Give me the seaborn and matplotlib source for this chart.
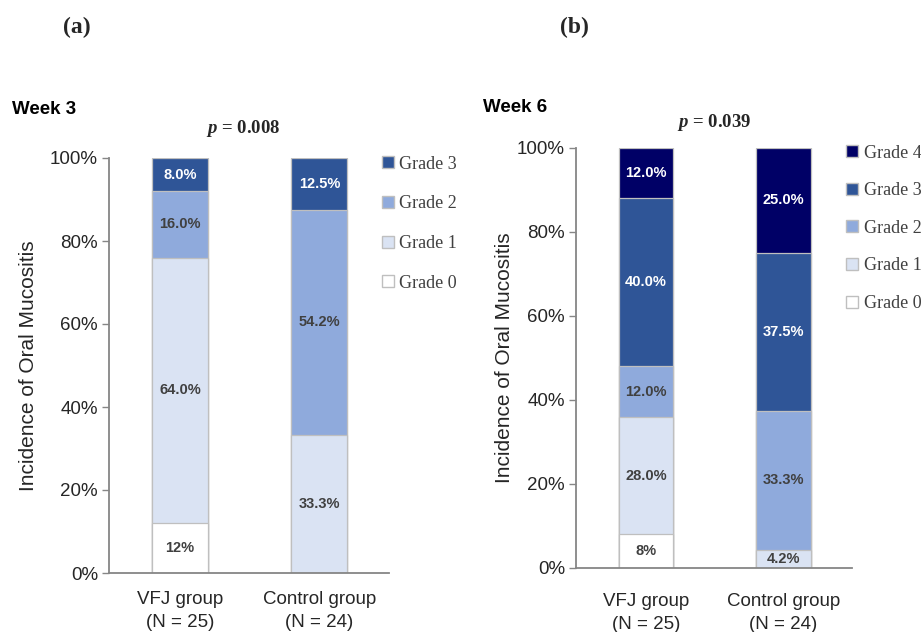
import numpy as np
import pandas as pd
import matplotlib
matplotlib.use('Agg')
import matplotlib.pyplot as plt
import seaborn as sns
from matplotlib.patches import Patch
from matplotlib.ticker import FuncFormatter

# Dados
groups = ['VFJ group\n(N = 25)', 'Control group\n(N = 24)']

week3_grades = ['Grade 0', 'Grade 1', 'Grade 2', 'Grade 3']
week3_vfj = [12.0, 64.0, 16.0, 8.0]
week3_ctrl = [0.0, 33.3, 54.2, 12.5]
week3_lbl_vfj = ['12%', '64.0%', '16.0%', '8.0%']
week3_lbl_ctrl = ['', '33.3%', '54.2%', '12.5%']

week6_grades = ['Grade 0', 'Grade 1', 'Grade 2', 'Grade 3', 'Grade 4']
week6_vfj = [8.0, 28.0, 12.0, 40.0, 12.0]
week6_ctrl = [0.0, 4.2, 33.3, 37.5, 25.0]
week6_lbl_vfj = ['8%', '28.0%', '12.0%', '40.0%', '12.0%']
week6_lbl_ctrl = ['', '4.2%', '33.3%', '37.5%', '25.0%']

grade_colors = {'Grade 0': '#FFFFFF', 'Grade 1': '#DAE3F3', 'Grade 2': '#8FAADC',
                'Grade 3': '#2F5597', 'Grade 4': '#000066'}
dark_grades = ['Grade 3', 'Grade 4']

sns.set_style('white')
plt.rcParams['font.family'] = ['Liberation Sans', 'DejaVu Sans']
plt.rcParams['mathtext.fontset'] = 'custom'
plt.rcParams['mathtext.it'] = 'Liberation Serif:italic:bold'
plt.rcParams['mathtext.rm'] = 'Liberation Serif:bold'

W, H = 921, 632
fig = plt.figure(figsize=(W / 100, H / 100), dpi=100)


def px_axes(x0, x1, ytop, ybot):
    return fig.add_axes([x0 / W, 1 - ybot / H, (x1 - x0) / W, (ybot - ytop) / H])


def stacked(ax, grades, vfj, ctrl, lbl_vfj, lbl_ctrl, xpad):
    cum_v = np.cumsum(vfj)
    cum_c = np.cumsum(ctrl)
    # desenhar do topo para baixo (barras sobrepostas)
    for i in range(len(grades) - 1, -1, -1):
        df = pd.DataFrame({'group': groups, 'val': [cum_v[i], cum_c[i]]})
        sns.barplot(data=df, x='group', y='val', color=grade_colors[grades[i]],
                    saturation=1, width=0.4, edgecolor='#BFBFBF', linewidth=0.9, ax=ax)
    for j, (vals, lbls) in enumerate([(vfj, lbl_vfj), (ctrl, lbl_ctrl)]):
        bottom = 0
        for g, v, t in zip(grades, vals, lbls):
            if t:
                col = 'white' if g in dark_grades else '#404040'
                ax.text(j, bottom + v / 2, t, ha='center', va='center', color=col,
                        fontsize=10.5, fontweight='bold', family='Liberation Sans')
            bottom += v
    ax.set_ylim(0, 100)
    ax.set_xlim(-0.51, 1.5)
    ax.set_yticks(range(0, 101, 20))
    ax.yaxis.set_major_formatter(FuncFormatter(lambda v, p: f'{v:.0f}%'))
    ax.set_xlabel('')
    ax.set_ylabel('Incidence of Oral Mucositis', fontsize=15, color='#262626')
    ax.tick_params(axis='y', length=5, width=1, color='#868686', labelsize=13.5,
                   labelcolor='#262626', pad=3, left=True)
    ax.tick_params(axis='x', length=0, labelsize=13.5, labelcolor='#262626', pad=xpad)
    for lab in ax.get_xticklabels():
        lab.set_linespacing(1.45)
    for s in ['top', 'right']:
        ax.spines[s].set_visible(False)
    for s in ['left', 'bottom']:
        ax.spines[s].set_color('#868686')
        ax.spines[s].set_linewidth(1.3)
    handles = [Patch(facecolor=grade_colors[g], edgecolor='#BFBFBF', label=g)
               for g in grades[::-1]]
    return handles


# Painel (a) - Semana 3
ax1 = px_axes(109, 389, 158, 573)
h1 = stacked(ax1, week3_grades, week3_vfj, week3_ctrl, week3_lbl_vfj, week3_lbl_ctrl, 13)
ax1.yaxis.set_label_coords(-(109 - 38) / 280, 0.5)
ax1.legend(handles=h1, loc='upper left', bbox_to_anchor=(0.975, 1.006), frameon=False,
           prop={'family': 'Liberation Serif', 'size': 13}, labelcolor='#404040',
           handlelength=0.65, handleheight=0.65, handletextpad=0.3, labelspacing=1.26,
           borderaxespad=0, borderpad=0)
ax1.text(0.479, 1.07, r'$p$ = 0.008', transform=ax1.transAxes, ha='center', va='center',
         fontsize=13.5, fontweight='bold', family='Liberation Serif')

# Painel (b) - Semana 6
ax2 = px_axes(576, 852, 148, 568)
h2 = stacked(ax2, week6_grades, week6_vfj, week6_ctrl, week6_lbl_vfj, week6_lbl_ctrl, 18)
ax2.yaxis.set_label_coords(-(576 - 514) / 276, 0.5)
ax2.legend(handles=h2, loc='upper left', bbox_to_anchor=(0.98, 1.008), frameon=False,
           prop={'family': 'Liberation Serif', 'size': 13}, labelcolor='#404040',
           handlelength=0.65, handleheight=0.65, handletextpad=0.3, labelspacing=1.14,
           borderaxespad=0, borderpad=0)
ax2.text(0.5, 1.06, r'$p$ = 0.039', transform=ax2.transAxes, ha='center', va='center',
         fontsize=13.5, fontweight='bold', family='Liberation Serif')

fig.text(12 / W, 1 - 110 / H, 'Week 3', ha='left', va='center', fontsize=13.5,
         fontweight='bold', color='black')
fig.text(483 / W, 1 - 107 / H, 'Week 6', ha='left', va='center', fontsize=13.5,
         fontweight='bold', color='black')
fig.text(77 / W, 1 - 27 / H, '(a)', ha='center', va='center', fontsize=17,
         fontweight='bold', family='Liberation Serif')
fig.text(574 / W, 1 - 27 / H, '(b)', ha='center', va='center', fontsize=17,
         fontweight='bold', family='Liberation Serif')

fig.savefig('out.png', dpi=100)
